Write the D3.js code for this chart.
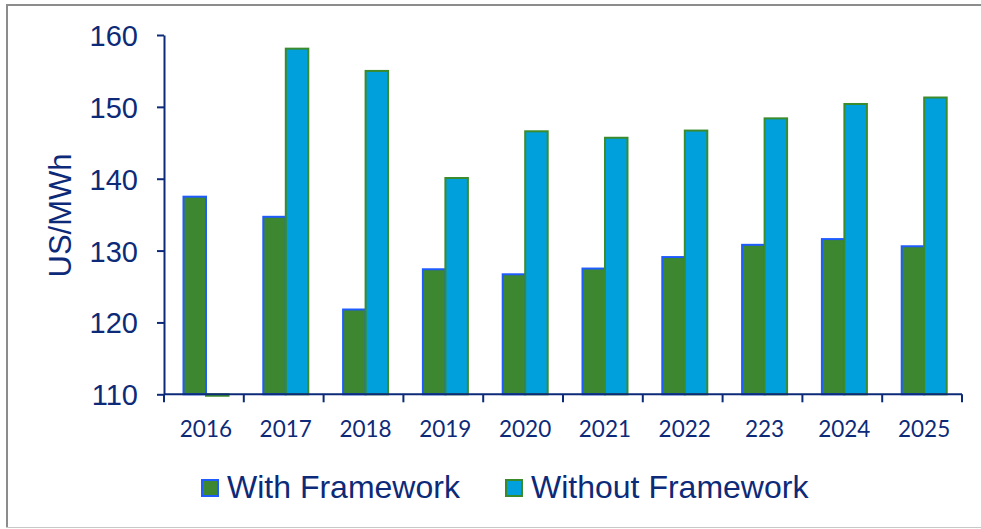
<!DOCTYPE html>
<html>
<head>
<meta charset="utf-8">
<script src="https://cdn.jsdelivr.net/npm/d3@7"></script>
<style>
  body { margin: 0; background: #fff; }
  svg { display: block; }
  .axis path, .axis line { stroke: #0d2a78; stroke-width: 2; }
  .axis text { fill: #0d2a78; }
</style>
</head>
<body>
<div id="chart"></div>
<script>
// data
var years = ["2016", "2017", "2018", "2019", "2020", "2021", "2022", "223", "2024", "2025"];
var withFramework = [137.5, 134.7, 121.8, 127.4, 126.7, 127.5, 129.1, 130.8, 131.6, 130.6];
var withoutFramework = [109.8, 158.1, 155.0, 140.1, 146.6, 145.7, 146.7, 148.4, 150.4, 151.3];
var seriesNames = ["With Framework", "Without Framework"];
var yTicks = [110, 120, 130, 140, 150, 160];

var fills = ["#3c8730", "#00a0dc"];
var strokes = ["#1f5cff", "#3b8a2c"];
var navy = "#0d2a78";

var W = 981, H = 529;

var svg = d3.select("#chart").append("svg")
  .attr("width", W)
  .attr("height", H);

// outer frame
svg.append("line").attr("x1", 6).attr("x2", W).attr("y1", 5).attr("y2", 5)
  .attr("stroke", "#8c8c8c").attr("stroke-width", 2);
svg.append("line").attr("x1", 7).attr("x2", 7).attr("y1", 4).attr("y2", 528)
  .attr("stroke", "#8c8c8c").attr("stroke-width", 2);
svg.append("line").attr("x1", 6).attr("x2", W).attr("y1", 527.5).attr("y2", 527.5)
  .attr("stroke", "#c8c8c8").attr("stroke-width", 1);

var x = d3.scaleBand()
  .domain(years)
  .range([164, 962])
  .padding(0);

var y = d3.scaleLinear()
  .domain([110, 160])
  .range([394.3, 35]);

var rows = years.map(function(yr, i) {
  return { year: yr, values: [withFramework[i], withoutFramework[i]] };
});

var x1 = d3.scaleBand()
  .domain([0, 1])
  .range([0, 45]);

// bars (a value under 110 hangs just below the axis, as in the original)
var groups = svg.selectAll("g.year")
  .data(rows)
  .enter().append("g")
  .attr("class", "year")
  .attr("transform", function(d) { return "translate(" + (x(d.year) + 19.5) + ",0)"; });

groups.selectAll("rect")
  .data(function(d) { return d.values; })
  .enter().append("rect")
  .attr("x", function(d, i) { return x1(i); })
  .attr("y", function(d) { return Math.min(y(d), y(110)); })
  .attr("width", x1.bandwidth())
  .attr("height", function(d) { return Math.abs(y(110) - y(d)); })
  .attr("fill", function(d, i) { return fills[i]; })
  .attr("stroke", function(d, i) { return strokes[i]; })
  .attr("stroke-width", 2);

// y axis
svg.append("g")
  .attr("class", "axis y")
  .attr("transform", "translate(164,0)")
  .call(d3.axisLeft(y).tickValues(yTicks).tickSize(7).tickSizeOuter(0).tickPadding(19))
  .call(function(g) {
    g.selectAll("text")
      .style("font-family", "'Liberation Sans', Arial, sans-serif")
      .style("font-size", "29px")
      .attr("dy", "0.36em");
  });

// x axis line + boundary ticks
var xAxis = svg.append("g").attr("class", "axis x");
xAxis.append("line")
  .attr("x1", 164).attr("x2", 962)
  .attr("y1", y(110)).attr("y2", y(110));
xAxis.selectAll("line.tick")
  .data(years.map(function(d) { return x(d); }).concat([x.range()[1]]))
  .enter().append("line")
  .attr("class", "tick")
  .attr("x1", function(d) { return d; })
  .attr("x2", function(d) { return d; })
  .attr("y1", y(110))
  .attr("y2", y(110) + 8);
xAxis.selectAll("text")
  .data(years)
  .enter().append("text")
  .attr("x", function(d) { return x(d) + x.bandwidth() / 2 + 2; })
  .attr("y", 437)
  .attr("text-anchor", "middle")
  .style("font-family", "Lato, 'Open Sans', sans-serif")
  .style("font-size", "22.5px")
  .text(function(d) { return d; });

// y axis title
svg.append("text")
  .attr("transform", "translate(71,215.5) rotate(-90)")
  .attr("text-anchor", "middle")
  .style("font-family", "'Liberation Sans', Arial, sans-serif")
  .style("font-size", "31px")
  .attr("fill", navy)
  .text("US/MWh");

// legend
var legendX = [202, 506];
var legend = svg.selectAll("g.legend")
  .data(seriesNames)
  .enter().append("g")
  .attr("class", "legend")
  .attr("transform", function(d, i) { return "translate(" + legendX[i] + ",480)"; });

legend.append("rect")
  .attr("width", 16)
  .attr("height", 16)
  .attr("fill", function(d, i) { return fills[i]; })
  .attr("stroke", function(d, i) { return strokes[i]; })
  .attr("stroke-width", 2);

legend.append("text")
  .attr("x", 25)
  .attr("y", 18)
  .style("font-family", "'Liberation Sans', Arial, sans-serif")
  .style("font-size", "32px")
  .attr("fill", navy)
  .text(function(d) { return d; });
</script>
</body>
</html>
